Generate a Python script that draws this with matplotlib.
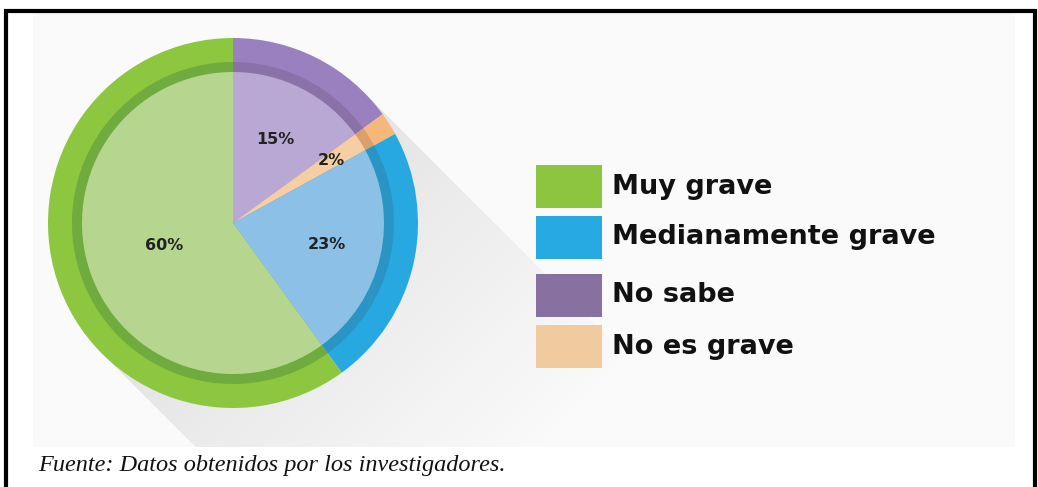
import numpy as np
import matplotlib.pyplot as plt
from matplotlib.patches import Rectangle

# --- data ---
categories = ["No sabe", "No es grave", "Medianamente grave", "Muy grave"]
values = [15, 2, 23, 60]
pct_labels = ["15%", "2%", "23%", "60%"]
label_dist = [0.62, 0.77, 0.64, 0.48]

outer_colors = ["#9b80c0", "#f6b878", "#28a8e0", "#8dc63f"]
band_colors = ["#8a71a8", "#d99f6d", "#2a94c4", "#70ab3f"]
inner_colors = ["#b9a8d4", "#f5cfa3", "#8cc0e6", "#b6d68f"]

legend_labels = ["Muy grave", "Medianamente grave", "No sabe", "No es grave"]
legend_colors = ["#8dc440", "#27a9e1", "#8870a0", "#f1cba0"]

source = "Fuente: Datos obtenidos por los investigadores."

# --- figure in pixel coordinates (y up) ---
W, H = 1038, 487
fig = plt.figure(figsize=(W / 100, H / 100), dpi=100)
ax = fig.add_axes([0, 0, 1, 1])
ax.axis("off")

cx, cy = 233, H - 223
R = 185

# light panel behind the chart
px0, px1 = 33, 1015
py0, py1 = H - 447, H - 12
ax.add_patch(Rectangle((px0, py0), px1 - px0, py1 - py0, facecolor="#fafafa",
                       edgecolor="none", zorder=0))

# long shadow towards the lower right
xs = np.arange(px0, px1) + 0.5
ys = np.arange(py0, py1) + 0.5
X, Y = np.meshgrid(xs, ys)
dx, dy = X - cx, Y - cy
t = (dx - dy) / np.sqrt(2)
s = (dx + dy) / np.sqrt(2)
alpha = np.where((np.abs(s) < R) & (t > 0), 0.17 * np.clip(1 - t / 380, 0, 1), 0)
img = np.zeros(X.shape + (4,))
img[..., :3] = 0.45
img[..., 3] = alpha
ax.imshow(img, extent=(px0, px1, py0, py1), origin="lower", zorder=1,
          interpolation="bilinear")

# pie: outer ring, dark band, inner pie
kw = dict(startangle=90, counterclock=False, center=(cx, cy),
          wedgeprops=dict(linewidth=0))
ax.pie(values, colors=outer_colors, radius=R, **kw)
ax.pie(values, colors=band_colors, radius=161, **kw)
wedges, _ = ax.pie(values, colors=inner_colors, radius=151, **kw)
for w in wedges:
    w.set_zorder(3)

for w, lab, d in zip(wedges, pct_labels, label_dist):
    ang = np.deg2rad((w.theta1 + w.theta2) / 2)
    ax.text(cx + d * 151 * np.cos(ang), cy + d * 151 * np.sin(ang), lab,
            ha="center", va="center", fontsize=11.5, fontweight="bold",
            color="#222222", family="DejaVu Sans", zorder=5)

ax.set_xlim(0, W)
ax.set_ylim(0, H)
ax.set_aspect("equal")

# legend drawn by hand
box_tops = [165, 216, 274, 325]
for top, lab, col in zip(box_tops, legend_labels, legend_colors):
    ax.add_patch(Rectangle((536, H - top - 43), 66, 43, facecolor=col,
                           edgecolor="none", zorder=4))
    ax.text(612, H - top - 21.5, lab, ha="left", va="center", fontsize=19.5,
            fontweight="bold", family="DejaVu Sans", color="#111111", zorder=5)

# source note
ax.text(38, H - 465, source, ha="left", va="center", fontsize=17.5,
        style="italic", family="Liberation Serif", color="#111111")

# frame
ax.add_patch(Rectangle((5.5, -10), 1029, H - 10.5 + 10, facecolor="none",
                       edgecolor="black", linewidth=3, zorder=6))

fig.savefig("out.png", dpi=100)
